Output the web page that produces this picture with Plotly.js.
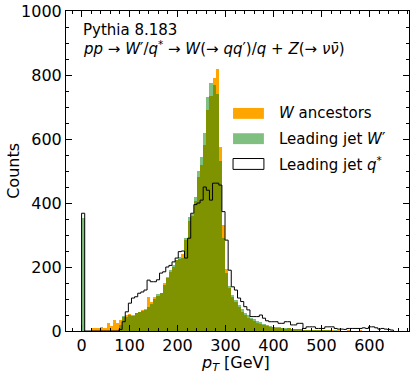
<!DOCTYPE html>
<html>
<head>
<meta charset="utf-8">
<script src="https://cdn.plot.ly/plotly-3.0.1.min.js"></script>
<style>
  body { margin: 0; background: #fff; }
  #chart { width: 414px; height: 374px; }
</style>
</head>
<body>
<div id="chart"></div>
<script>
// Histogramas de pT: 100 bins de 6.5 GeV entre 0 e 650 GeV
const binStart = 0;
const binWidth = 6.5;

const wAncestors = [
    0, 0, 0, 8, 8, 8, 13, 10, 26, 17,
    34, 24, 34, 45, 50, 52, 50, 55, 60, 66,
    70, 107, 92, 105, 110, 118, 150, 169, 185, 200,
    222, 225, 240, 284, 345, 360, 405, 480, 520, 580,
    690, 735, 790, 818, 575, 330, 195, 135, 105, 90,
    75, 60, 50, 42, 36, 30, 26, 22, 18, 15,
    12, 12, 9, 10, 8, 7, 8, 6, 5, 6,
    5, 4, 4, 3, 4, 3, 2, 3, 2, 2,
    2, 1, 2, 1, 1, 2, 1, 1, 1, 2,
    1, 1, 1, 0, 1, 1, 0, 1, 0, 0
];

const leadingJetWprime = [
    352, 0, 0, 0, 0, 0, 0, 0, 0, 0,
    0, 0, 20, 48, 45, 50, 48, 55, 60, 64,
    66, 75, 85, 100, 115, 118, 145, 165, 190, 205,
    222, 230, 228, 290, 355, 365, 420, 500, 545, 620,
    730, 775, 770, 740, 530, 290, 180, 140, 112, 97,
    80, 68, 57, 50, 42, 38, 30, 27, 22, 19,
    16, 14, 12, 11, 9, 8, 8, 6, 6, 5,
    5, 4, 4, 3, 3, 3, 2, 2, 2, 2,
    1, 2, 1, 1, 1, 0, 1, 1, 0, 1,
    1, 0, 1, 0, 0, 1, 0, 0, 0, 0
];

const leadingJetQstar = [
    368, 0, 0, 0, 0, 0, 0, 0, 0, 0,
    0, 0, 5, 29, 60, 87, 103, 107, 118, 122,
    128, 159, 154, 154, 160, 181, 185, 200, 205, 216,
    228, 248, 250, 228, 290, 368, 395, 400, 409, 450,
    440, 409, 462, 462, 456, 373, 284, 190, 138, 128,
    103, 92, 76, 66, 45, 45, 45, 50, 40, 32,
    29, 29, 29, 24, 24, 29, 29, 19, 19, 24,
    24, 8, 13, 13, 13, 8, 8, 8, 13, 13,
    13, 8, 6, 6, 5, 8, 8, 8, 8, 8,
    10, 8, 13, 13, 10, 6, 8, 6, 5, 3
];

const legendLabels = [
    '<i>W</i> ancestors',
    'Leading jet <i>W</i>′',
    'Leading jet <i>q</i><sup>*</sup>'
];

const nBins = wAncestors.length;
const centros = [];
const bordas = [];
for (let i = 0; i < nBins; i++) {
    centros.push(binStart + binWidth * (i + 0.5));
}
for (let i = 0; i <= nBins; i++) {
    bordas.push(binStart + binWidth * i);
}

// Contorno em degraus para q*
const stepX = [bordas[0]];
const stepY = [0];
for (let i = 0; i < nBins; i++) {
    stepX.push(bordas[i]);
    stepY.push(leadingJetQstar[i]);
}
stepX.push(bordas[nBins], bordas[nBins]);
stepY.push(leadingJetQstar[nBins - 1], 0);

const data = [
    {
        x: centros,
        y: wAncestors,
        type: 'bar',
        width: binWidth,
        marker: { color: '#ffa500', line: { width: 0 } },
        hoverinfo: 'skip'
    },
    {
        x: centros,
        y: leadingJetWprime,
        type: 'bar',
        width: binWidth,
        marker: { color: 'rgba(0,128,0,0.5)', line: { width: 0 } },
        hoverinfo: 'skip'
    },
    {
        x: stepX,
        y: stepY,
        type: 'scatter',
        mode: 'lines',
        line: { shape: 'hv', color: '#000', width: 1 },
        hoverinfo: 'skip'
    }
];

const fonte = { family: 'DejaVu Sans', color: '#000' };

// Legenda desenhada à mão (patches largos como no matplotlib)
const legendY = [0.680, 0.601, 0.522];
const shapes = [
    { type: 'rect', xref: 'paper', yref: 'paper', x0: 0.487, x1: 0.577,
      y0: legendY[0] - 0.017, y1: legendY[0] + 0.017, fillcolor: '#ffa500', line: { width: 0 } },
    { type: 'rect', xref: 'paper', yref: 'paper', x0: 0.487, x1: 0.577,
      y0: legendY[1] - 0.017, y1: legendY[1] + 0.017, fillcolor: 'rgba(0,128,0,0.5)', line: { width: 0 } },
    { type: 'rect', xref: 'paper', yref: 'paper', x0: 0.487, x1: 0.577,
      y0: legendY[2] - 0.017, y1: legendY[2] + 0.017, fillcolor: '#fff', line: { color: '#000', width: 1 } }
];

const annotations = legendLabels.map((txt, i) => ({
    xref: 'paper', yref: 'paper', x: 0.615, y: legendY[i],
    xanchor: 'left', yanchor: 'middle', showarrow: false,
    text: txt, font: Object.assign({ size: 15 }, fonte)
}));

annotations.push({
    xref: 'paper', yref: 'paper', x: 0.044, y: 0.94,
    xanchor: 'left', yanchor: 'middle', showarrow: false,
    text: 'Pythia 8.183', font: Object.assign({ size: 15 }, fonte)
});
annotations.push({
    xref: 'paper', yref: 'paper', x: 0.044, y: 0.885,
    xanchor: 'left', yanchor: 'middle', showarrow: false,
    text: '<i>pp</i> → <i>W</i>′/<i>q</i><sup>*</sup> → <i>W</i>(→ <i>qq</i>′)/<i>q</i> + <i>Z</i>(→ <i>νν̄</i>)',
    font: Object.assign({ size: 15 }, fonte)
});

// Títulos dos eixos como anotações para posicioná-los como no original
annotations.push({
    xref: 'paper', yref: 'paper', x: 0.493, y: -0.1,
    xanchor: 'center', yanchor: 'middle', showarrow: false,
    text: '<i>p<sub>T</sub></i> [GeV]', font: Object.assign({ size: 16 }, fonte)
});
annotations.push({
    xref: 'paper', yref: 'paper', x: -0.155, y: 0.5,
    xanchor: 'center', yanchor: 'middle', showarrow: false, textangle: -90,
    text: 'Counts', font: Object.assign({ size: 16 }, fonte)
});

const layout = {
    width: 414,
    height: 374,
    margin: { l: 66, r: 5, t: 11, b: 43 },
    paper_bgcolor: '#fff',
    plot_bgcolor: '#fff',
    barmode: 'overlay',
    bargap: 0,
    showlegend: false,
    font: Object.assign({ size: 16 }, fonte),
    xaxis: {
        range: [-32.5, 682.5],
        tickvals: [0, 100, 200, 300, 400, 500, 600],
        ticks: 'inside',
        ticklen: 6,
        tickcolor: '#000',
        showline: true,
        linecolor: '#000',
        linewidth: 1,
        mirror: 'ticks',
        showgrid: false,
        zeroline: false,
        minor: { ticks: 'inside', dtick: 20, tick0: 0, ticklen: 3, tickcolor: '#000' },
        tickfont: Object.assign({ size: 16 }, fonte)
    },
    yaxis: {
        range: [0, 1000],
        dtick: 200,
        ticks: 'inside',
        ticklen: 6,
        tickcolor: '#000',
        showline: true,
        linecolor: '#000',
        linewidth: 1,
        mirror: 'ticks',
        showgrid: false,
        zeroline: false,
        minor: { ticks: 'inside', dtick: 50, ticklen: 3, tickcolor: '#000' },
        tickfont: Object.assign({ size: 16 }, fonte)
    },
    shapes: shapes,
    annotations: annotations
};

Plotly.newPlot('chart', data, layout, { staticPlot: true, displayModeBar: false });
</script>
</body>
</html>
